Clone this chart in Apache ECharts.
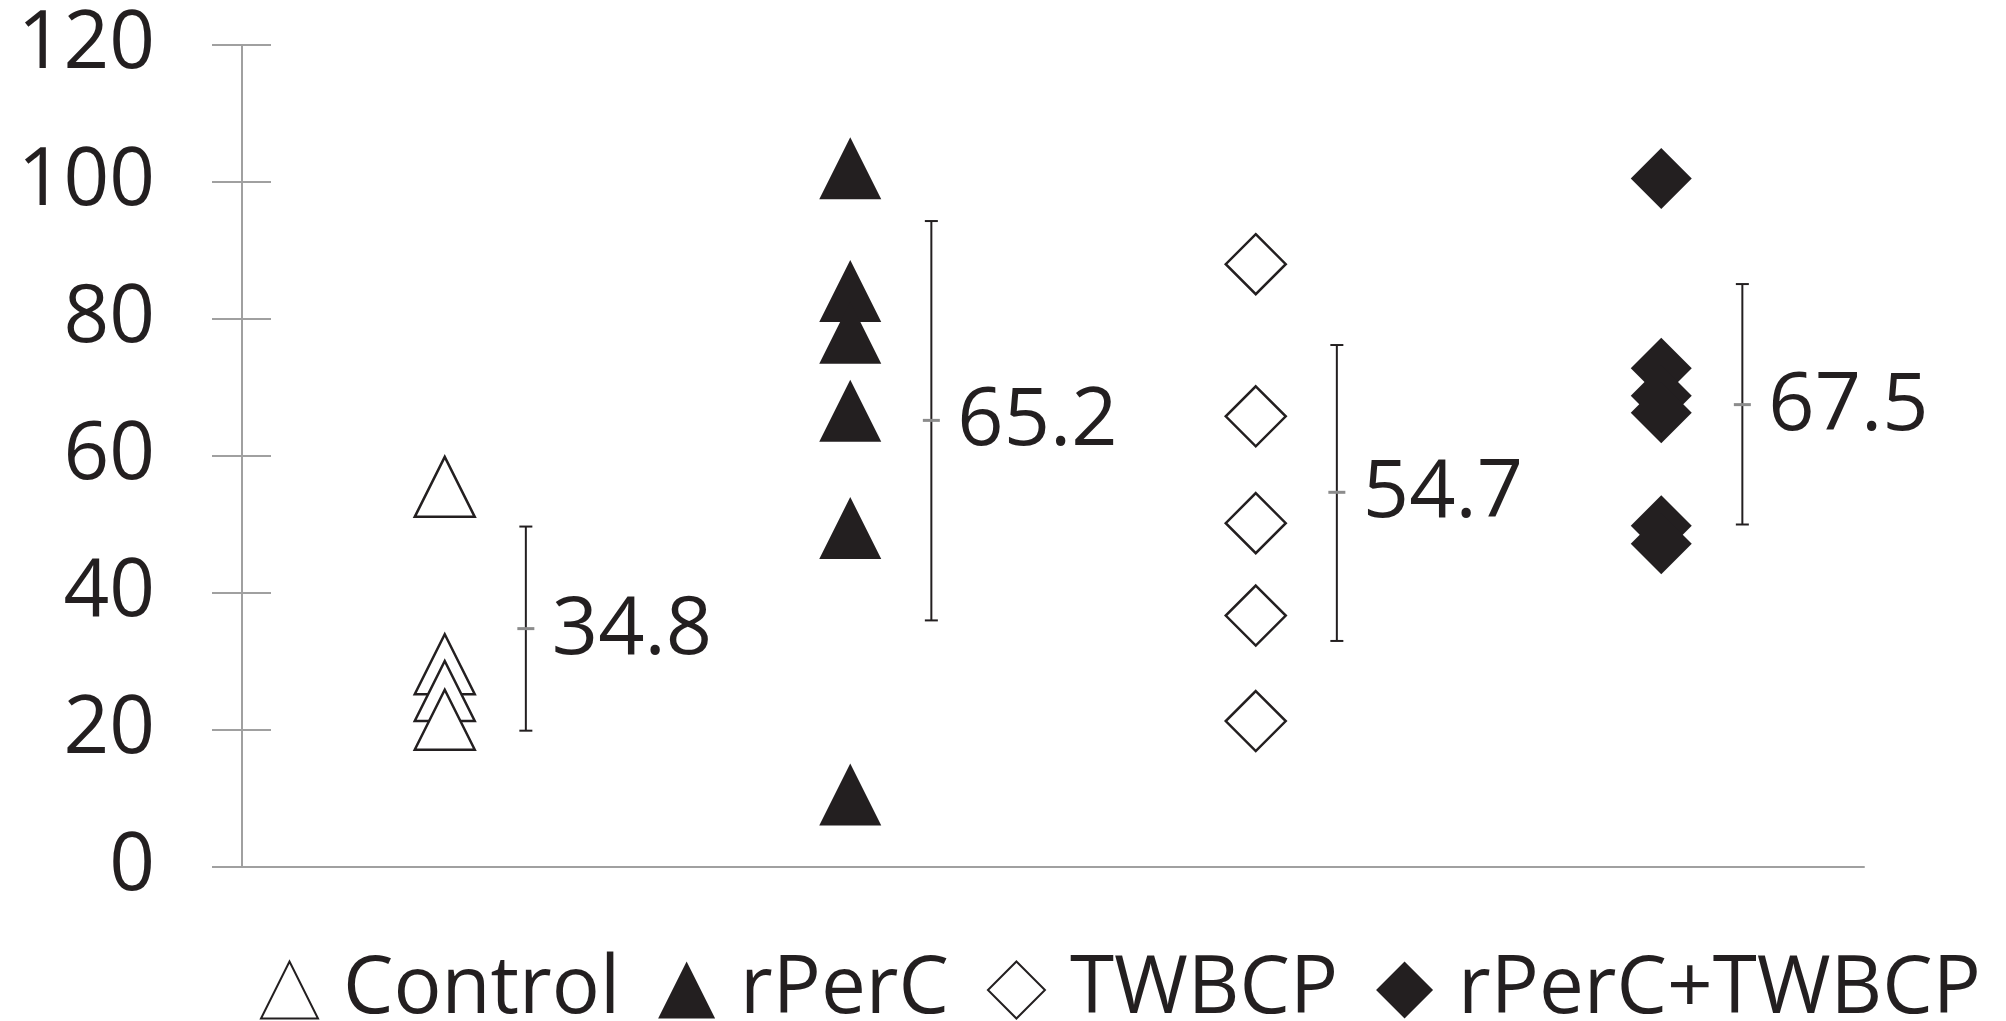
<!DOCTYPE html>
<html>
<head>
<meta charset="utf-8">
<script src="https://cdn.jsdelivr.net/npm/echarts@6/dist/echarts.min.js"></script>
<style>
  html, body { margin: 0; padding: 0; background: #fff; }
  #main { width: 2006px; height: 1021px; }
</style>
</head>
<body>
<div id="main"></div>
<script>
// group names (legend) and their x slot on the axis
var groups = ["Control", "rPerC", "TWBCP", "rPerC+TWBCP"];
var slots = [1, 2, 3, 4];

// individual values
var controlValues = [55.5, 29.6, 25.7, 21.5];
var rPerCValues = [102, 84.1, 78, 66.6, 49.5, 10.6];
var twbcpValues = [88.0, 65.8, 50.2, 36.7, 21.3];
var comboValues = [100.5, 72.8, 68.8, 66.3, 49.8, 47.2];

// mean and error bar ends for each group
var means = [34.8, 65.2, 54.7, 67.5];
var barLow = [19.9, 36.0, 33.0, 50.0];
var barHigh = [49.7, 94.3, 76.2, 85.1];
var barShift = 0.2; // error bars sit a bit right of the points

var yTicks = [0, 20, 40, 60, 80, 100, 120];

var ink = "#231f20";
var axisGray = "#a0a0a0";

function pairs(slot, vals) {
  return vals.map(function (v) { return [slot, v]; });
}

var errData = groups.map(function (g, i) {
  return [slots[i] + barShift, barLow[i], means[i], barHigh[i]];
});

var chart = echarts.init(document.getElementById("main"));

var option = {
  animation: false,
  grid: { left: 242, right: 142, top: 45, bottom: 154 },
  xAxis: {
    type: "value",
    min: 0.5,
    max: 4.5,
    axisLine: { show: true, lineStyle: { color: axisGray, width: 2 } },
    axisTick: { show: false },
    axisLabel: { show: false },
    splitLine: { show: false }
  },
  yAxis: [
    {
      type: "value",
      position: "left",
      min: yTicks[0],
      max: yTicks[yTicks.length - 1],
      interval: 20,
      axisLine: { show: true, lineStyle: { color: axisGray, width: 2 } },
      axisTick: { show: true, length: 30, lineStyle: { color: axisGray, width: 2 } },
      axisLabel: {
        margin: 87,
        color: ink,
        fontFamily: "Open Sans",
        fontSize: 80
      },
      splitLine: { show: false }
    },
    {
      // same scale again, only to draw the inner half of each tick
      type: "value",
      position: "left",
      offset: 0,
      min: yTicks[0],
      max: yTicks[yTicks.length - 1],
      interval: 20,
      axisLine: { show: false },
      axisTick: { show: true, inside: true, length: 29, lineStyle: { color: axisGray, width: 2 } },
      axisLabel: { show: false },
      splitLine: { show: false }
    }
  ],
  legend: {
    left: 255,
    top: 945,
    itemWidth: 57,
    itemHeight: 57,
    itemGap: 38,
    textStyle: {
      color: ink,
      fontFamily: "Open Sans",
      fontSize: 80,
      padding: [0, 0, 0, 20]
    },
    data: groups
  },
  series: [
    {
      name: groups[0],
      type: "scatter",
      symbol: "triangle",
      symbolSize: 60,
      itemStyle: { color: "#ffffff", borderColor: ink, borderWidth: 2.5, opacity: 1 },
      data: pairs(slots[0], controlValues)
    },
    {
      name: groups[1],
      type: "scatter",
      symbol: "triangle",
      symbolSize: 62,
      itemStyle: { color: ink, opacity: 1 },
      data: pairs(slots[1], rPerCValues)
    },
    {
      name: groups[2],
      type: "scatter",
      symbol: "diamond",
      symbolSize: 60,
      itemStyle: { color: "#ffffff", borderColor: ink, borderWidth: 2.5, opacity: 1 },
      data: pairs(slots[2], twbcpValues)
    },
    {
      name: groups[3],
      type: "scatter",
      symbol: "diamond",
      symbolSize: 61,
      itemStyle: { color: ink, opacity: 1 },
      data: pairs(slots[3], comboValues)
    },
    {
      name: "errors",
      type: "custom",
      silent: true,
      data: errData,
      renderItem: function (params, api) {
        var x = api.value(0);
        var top = api.coord([x, api.value(3)]);
        var bot = api.coord([x, api.value(1)]);
        var mid = api.coord([x, api.value(2)]);
        var cap = 6.5;
        var lineStyle = { stroke: ink, lineWidth: 2 };
        return {
          type: "group",
          children: [
            { type: "line", shape: { x1: top[0], y1: top[1], x2: bot[0], y2: bot[1] }, style: lineStyle },
            { type: "line", shape: { x1: top[0] - cap, y1: top[1], x2: top[0] + cap, y2: top[1] }, style: lineStyle },
            { type: "line", shape: { x1: bot[0] - cap, y1: bot[1], x2: bot[0] + cap, y2: bot[1] }, style: lineStyle },
            { type: "line", shape: { x1: mid[0] - 8.5, y1: mid[1], x2: mid[0] + 8.5, y2: mid[1] }, style: { stroke: "#8c8c8c", lineWidth: 3 } },
            {
              type: "text",
              x: mid[0] + 26,
              y: mid[1] + 2,
              style: {
                text: api.value(2).toFixed(1),
                fill: ink,
                fontFamily: "Open Sans",
                fontSize: 81,
                align: "left",
                verticalAlign: "middle"
              }
            }
          ]
        };
      }
    }
  ]
};

chart.setOption(option);
window.addEventListener("resize", function () {
  chart.resize();
});
</script>
</body>
</html>
